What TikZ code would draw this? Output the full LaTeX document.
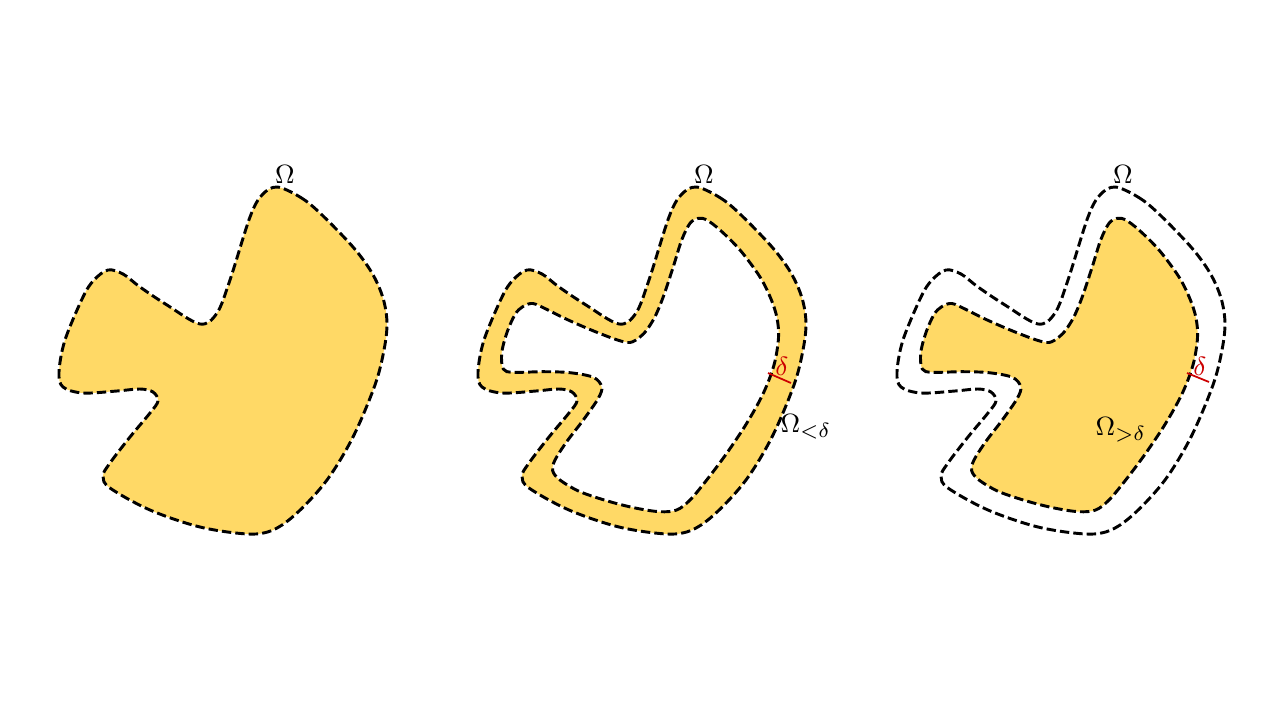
\documentclass[tikz,border=0pt]{standalone}
\definecolor{gold}{HTML}{FFD966}
\definecolor{dred}{HTML}{CC0000}
\def\blob{plot[smooth cycle, tension=0.55] coordinates {(277,187) (300,197) (320,213) (353,247) (372,273) (383,298) (387,323) (384,350) (375,385) (353,437) (327,480) (297,513) (273,530) (248,534) (200,527) (150,510) (110,488) (103,476) (110,463) (130,437) (150,413) (158,401) (153,392) (140,389) (117,391) (83,393) (63,387) (59,372) (65,340) (83,297) (94,280) (108,270) (123,274) (140,287) (167,305) (200,324) (217,313) (230,280) (250,217) (262,195)}}
\def\inner{plot[smooth cycle, tension=0.55] coordinates {(114,303.5) (104,306.5) (96,314.5) (87.7,333.3) (82.7,353.3) (84.3,369) (94.3,372.3) (124.3,371.7) (151,372.7) (174.3,377.3) (182.7,386.7) (179.3,398.3) (164.3,420) (147.7,441.7) (136,460) (133.7,470.7) (141,480) (161,491.7) (191,501.7) (217.7,508.3) (241,511.7) (257.7,510) (271,500) (287.7,480) (307.7,453.3) (327.7,423.3) (344.3,393.3) (355,365) (359.5,338) (358,318) (352,299) (341,277) (321,250) (301,230) (287.7,220) (279.3,218.3) (271,223.3) (262.7,240) (254.3,266.7) (244.3,296.7) (236,316.7) (227.7,330) (221,337) (211,342.5) (197,339.5) (171,329.5) (146,318.5) (128,309.5)}}
\begin{document}
\begin{tikzpicture}[x=0.012cm,y=-0.012cm,
  bnd/.style={line width=1pt, dash pattern=on 3.2pt off 1.4pt, black},
  lbl/.style={font=\fontsize{9.5}{11}\selectfont, inner sep=0pt, anchor=base},
  redlbl/.style={lbl, text=dred},
  redseg/.style={dred, line width=0.6pt}]
\useasboundingbox (0,0) rectangle (1280,720);
% panel 1
\fill[gold] \blob;
\draw[bnd] \blob;
\node[lbl] (om1) at (285,183) {$\Omega$};
% panel 2
\begin{scope}[shift={(419,0)}]
  \fill[gold] \blob;
  \fill[white] \inner;
  \draw[bnd] \inner;
  \draw[bnd] \blob;
\end{scope}
\node[lbl] (om2) at (704,183) {$\Omega$};
\node[lbl, anchor=base west] (oml) at (780,432) {$\Omega_{<\delta}$};
\coordinate (d2a) at (768,373);
\coordinate (d2b) at (791,383);
\draw[redseg] (d2a) -- (d2b);
\node[redlbl] (dl2) at (782,375) {$\delta$};
% panel 3
\begin{scope}[shift={(838,0)}]
  \fill[gold] \inner;
  \draw[bnd] \inner;
  \draw[bnd] \blob;
\end{scope}
\node[lbl] (om3) at (1123,183) {$\Omega$};
\node[lbl, anchor=base west] (omg) at (1095,435) {$\Omega_{>\delta}$};
\coordinate (d3a) at (1187,373);
\coordinate (d3b) at (1209,382);
\draw[redseg] (d3a) -- (d3b);
\node[redlbl] (dl3) at (1200,375) {$\delta$};
\end{tikzpicture}
\end{document}
